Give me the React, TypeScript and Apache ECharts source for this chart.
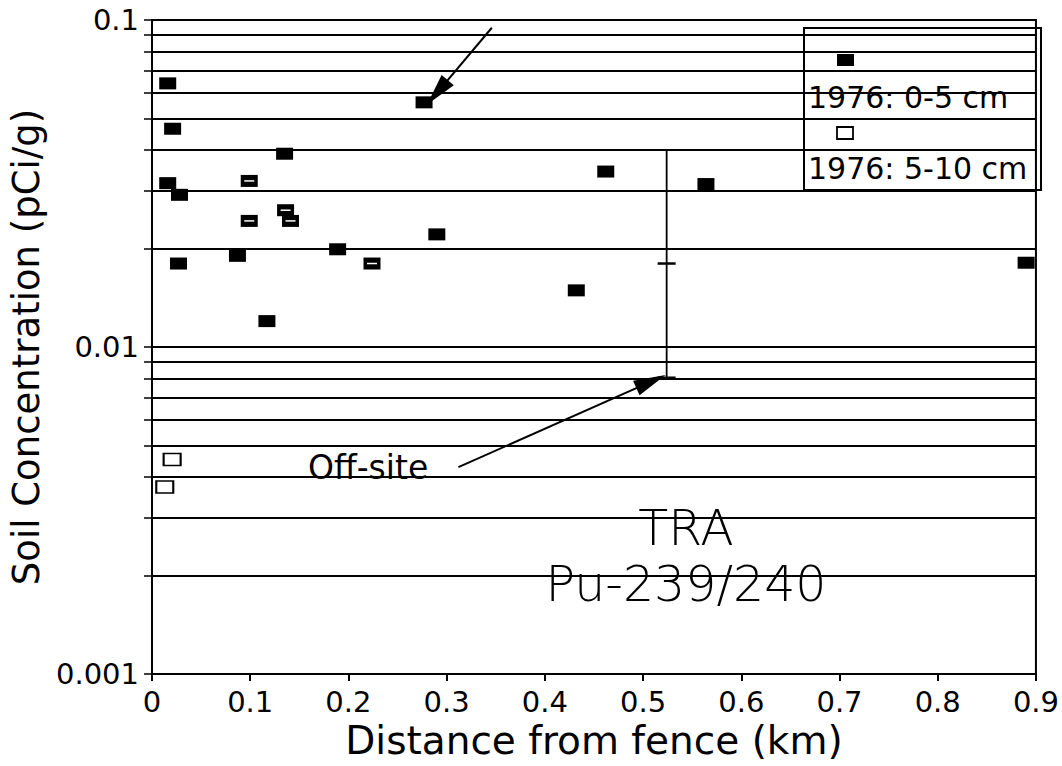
import React, { useEffect, useRef } from "react";
import * as echarts from "echarts";

// 1976 0-5 cm (filled squares)
const shallowX = [0.016, 0.021, 0.016, 0.028, 0.027, 0.087, 0.117, 0.135, 0.189, 0.277, 0.29, 0.432, 0.462, 0.564, 0.89];
const shallowY = [0.064, 0.0465, 0.0317, 0.0292, 0.018, 0.019, 0.012, 0.039, 0.0199, 0.056, 0.0221, 0.0149, 0.0344, 0.0315, 0.0181];
// overlapping points (filled squares with light streaks)
const overlapX = [0.099, 0.099, 0.136, 0.141, 0.224];
const overlapY = [0.0322, 0.0243, 0.0262, 0.0243, 0.018];
// 1976 5-10 cm (open squares)
const deepX = [0.0205, 0.013];
const deepY = [0.00453, 0.00373];
// off-site range bar: x, high, mean, low
const offSite = [0.524, 0.0403, 0.018, 0.00804];
// annotation arrows [x1, y1, x2, y2]
const arrowTop = [0.346, 0.0947, 0.2906, 0.0601];
const arrowOff = [0.312, 0.00429, 0.508, 0.00784];

const xTicks = [0, 0.1, 0.2, 0.3, 0.4, 0.5, 0.6, 0.7, 0.8, 0.9];
const yLabelValues = [0.001, 0.01, 0.1];
const yLabelTexts = ["0.001", "0.01", "0.1"];
const yGridValues = [
  0.002, 0.003, 0.004, 0.005, 0.006, 0.007, 0.008, 0.009, 0.01,
  0.02, 0.03, 0.04, 0.05, 0.06, 0.07, 0.08, 0.09,
];
const yTickValues = [0.001, ...yGridValues, 0.1];

const FONT = "DejaVu Sans";

export default function App() {
  const ref = useRef<HTMLDivElement>(null);
  useEffect(() => {
    if (!ref.current) return;
    const chart = echarts.init(ref.current, null, { renderer: "svg" });
    const shallow = shallowX.map((x, i) => [x, shallowY[i]]);
    const overlap = overlapX.map((x, i) => [x, overlapY[i]]);
    const deep = deepX.map((x, i) => [x, deepY[i]]);
    const option: any = {
      animation: false,
      backgroundColor: "#ffffff",
      textStyle: { fontFamily: FONT, color: "#000" },
      grid: {
        left: 152,
        right: 17,
        top: 20,
        bottom: 92,
        show: true,
        borderColor: "#000",
        borderWidth: 2,
        backgroundColor: "transparent",
      },
      xAxis: {
        type: "value",
        min: 0,
        max: 0.9,
        interval: 0.1,
        name: "Distance from fence (km)",
        nameLocation: "middle",
        nameGap: 46,
        nameTextStyle: { fontSize: 39, fontFamily: FONT, color: "#000", fontWeight: 400 },
        axisLine: { lineStyle: { color: "#000", width: 2 } },
        axisTick: { show: true, length: 7, inside: false, lineStyle: { color: "#000", width: 2 } },
        axisLabel: {
          fontSize: 29,
          fontFamily: FONT,
          color: "#000",
          fontWeight: 400,
          margin: 13,
          showMaxLabel: true,
          formatter: (v: number) => {
            const idx = xTicks.findIndex((t) => Math.abs(t - v) < 1e-9);
            return idx >= 0 ? String(xTicks[idx]) : "";
          },
        },
        splitLine: { show: false },
      },
      yAxis: {
        type: "log",
        logBase: 10,
        min: 0.001,
        max: 0.1,
        name: "Soil Concentration (pCi/g)",
        nameLocation: "middle",
        nameGap: 96,
        nameRotate: 90,
        nameTextStyle: { fontSize: 37, fontFamily: FONT, color: "#000", fontWeight: 400 },
        axisLine: { show: true, lineStyle: { color: "#000", width: 2 } },
        axisTick: {
          show: true,
          length: 8,
          inside: false,
          customValues: yTickValues,
          lineStyle: { color: "#000", width: 1.5 },
        },
        axisLabel: {
          fontSize: 29,
          fontFamily: FONT,
          color: "#000",
          fontWeight: 400,
          margin: 13,
          customValues: yLabelValues,
          formatter: (v: number) => {
            const idx = yLabelValues.findIndex((t) => Math.abs(Math.log10(t) - Math.log10(v)) < 1e-6);
            return idx >= 0 ? yLabelTexts[idx] : "";
          },
        },
        splitLine: { show: false },
        minorTick: { show: false },
      },
      series: [
        {
          type: "line",
          name: "grid",
          data: [],
          silent: true,
          z: 1,
          markLine: {
            silent: true,
            precision: 6,
            symbol: ["none", "none"],
            label: { show: false },
            lineStyle: { color: "#000", width: 2, type: "solid" },
            data: yGridValues.map((v) => ({ yAxis: v })),
          },
        },
        {
          type: "custom",
          name: "Off-site",
          z: 3,
          encode: { x: 0, y: [1, 2, 3] },
          data: [offSite],
          renderItem: (params: any, api: any) => {
            const x = api.value(0);
            const top = api.coord([x, api.value(1)]);
            const mid = api.coord([x, api.value(2)]);
            const low = api.coord([x, api.value(3)]);
            const half = 9;
            return {
              type: "group",
              children: [
                {
                  type: "line",
                  shape: { x1: top[0], y1: top[1], x2: low[0], y2: low[1] },
                  style: { stroke: "#000", lineWidth: 1.8 },
                },
                {
                  type: "line",
                  shape: { x1: mid[0] - half, y1: mid[1], x2: mid[0] + half, y2: mid[1] },
                  style: { stroke: "#000", lineWidth: 2.5 },
                },
                {
                  type: "line",
                  shape: { x1: low[0] - half, y1: low[1], x2: low[0] + half, y2: low[1] },
                  style: { stroke: "#000", lineWidth: 3 },
                },
              ],
            };
          },
        },
        {
          type: "scatter",
          name: "1976: 0-5 cm",
          z: 5,
          symbol: "rect",
          symbolSize: [17, 12],
          itemStyle: { color: "#000", opacity: 1 },
          data: [...shallow, ...overlap],
          markLine: {
            silent: true,
            precision: 6,
            symbol: ["none", "triangle"],
            symbolSize: [16, 32],
            label: { show: false },
            lineStyle: { color: "#000", width: 2, type: "solid" },
            data: [
              [{ coord: [arrowTop[0], arrowTop[1]] }, { coord: [arrowTop[2], arrowTop[3]] }],
              [{ coord: [arrowOff[0], arrowOff[1]] }, { coord: [arrowOff[2], arrowOff[3]] }],
            ],
          },
        },
        {
          type: "custom",
          name: "overlap-streak",
          z: 6,
          silent: true,
          data: overlap,
          renderItem: (params: any, api: any) => {
            const p = api.coord([api.value(0), api.value(1)]);
            return {
              type: "line",
              shape: { x1: p[0] - 5, y1: p[1], x2: p[0] + 5, y2: p[1] },
              style: { stroke: "#fff", lineWidth: 1.5 },
            };
          },
        },
        {
          type: "scatter",
          name: "1976: 5-10 cm",
          z: 5,
          symbol: "rect",
          symbolSize: [17, 12],
          itemStyle: { color: "#fff", borderColor: "#000", borderWidth: 1.8, opacity: 1 },
          data: deep,
        },
      ],
      graphic: [
        {
          type: "rect",
          shape: { x: 804, y: 28, width: 237, height: 162 },
          style: { fill: "none", stroke: "#000", lineWidth: 2 },
          z: 10,
        },
        {
          type: "rect",
          shape: { x: 837, y: 54, width: 17, height: 12 },
          style: { fill: "#000" },
          z: 10,
        },
        {
          type: "text",
          x: 808,
          y: 97,
          style: { text: "1976: 0-5 cm", font: `400 30px '${FONT}'`, fill: "#000", verticalAlign: "middle" },
          z: 10,
        },
        {
          type: "rect",
          shape: { x: 837, y: 127, width: 16, height: 12 },
          style: { fill: "#fff", stroke: "#000", lineWidth: 1.8 },
          z: 10,
        },
        {
          type: "text",
          x: 808,
          y: 168,
          style: { text: "1976: 5-10 cm", font: `400 30px '${FONT}'`, fill: "#000", verticalAlign: "middle" },
          z: 10,
        },
        {
          type: "text",
          x: 308,
          y: 467,
          style: { text: "Off-site", font: `400 33px '${FONT}'`, fill: "#000", verticalAlign: "middle" },
          z: 10,
        },
        {
          type: "text",
          x: 686,
          y: 528,
          style: { text: "TRA", font: `200 49px '${FONT}'`, fill: "#000", align: "center", verticalAlign: "middle" },
          z: 10,
        },
        {
          type: "text",
          x: 686,
          y: 584,
          style: { text: "Pu-239/240", font: `200 49px '${FONT}'`, fill: "#000", align: "center", verticalAlign: "middle" },
          z: 10,
        },
      ],
    };
    chart.setOption(option);
    return () => chart.dispose();
  }, []);
  return (
    <div
      ref={ref}
      style={{ position: "fixed", left: 0, top: 0, width: 1062, height: 766, background: "#fff" }}
    />
  );
}
